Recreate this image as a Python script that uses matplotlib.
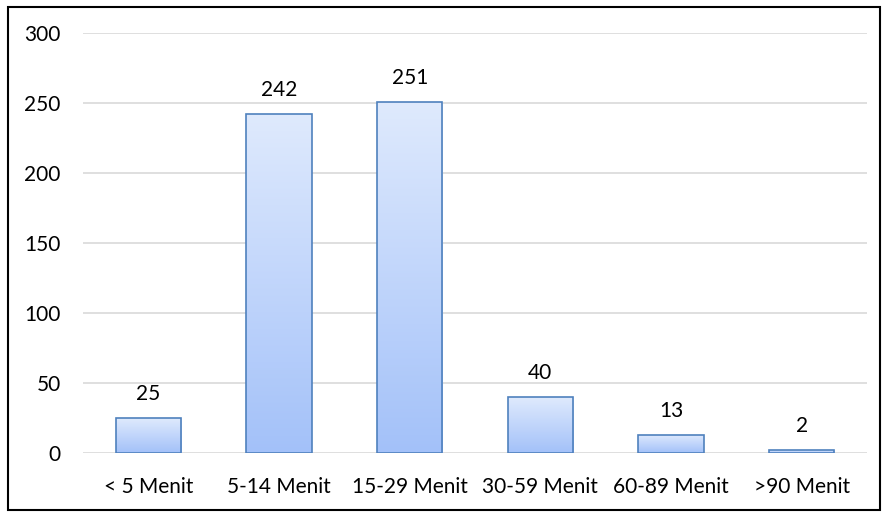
import numpy as np
import matplotlib.pyplot as plt
from matplotlib.patches import Rectangle
from matplotlib.colors import LinearSegmentedColormap

# data
categories = ['< 5 Menit', '5-14 Menit', '15-29 Menit', '30-59 Menit', '60-89 Menit', '>90 Menit']
counts = [25, 242, 251, 40, 13, 2]
y_ticks = [0, 50, 100, 150, 200, 250, 300]

plt.rcParams['font.family'] = ['Lato', 'DejaVu Sans']

fig = plt.figure(figsize=(8.84, 5.13), dpi=100)
ax = fig.add_axes([0.0939, 0.117, 0.887, 0.8187])

# outer frame of the chart
fig.patches.append(Rectangle((0.009, 0.006), 0.9864, 0.9805, transform=fig.transFigure,
                             fill=False, edgecolor='black', linewidth=1.5))

x = np.arange(len(categories))
bars = ax.bar(x, counts, width=0.5, color='none', edgecolor='#4f81bd', linewidth=1.2, zorder=3)

# vertical gradient inside each bar (light at top, darker at bottom)
cmap = LinearSegmentedColormap.from_list('bluegrad', ['#a3c1f9', '#dfeafd'])
grad = np.linspace(0, 1, 256).reshape(-1, 1)
for b in bars:
    x0, y0 = b.get_x(), b.get_y()
    w, h = b.get_width(), b.get_height()
    im = ax.imshow(grad, cmap=cmap, origin='lower', aspect='auto',
                   extent=(x0, x0 + w, y0, y0 + h), zorder=2)
    im.set_clip_path(b)

for b, v in zip(bars, counts):
    ax.annotate(str(v), (b.get_x() + b.get_width() / 2, b.get_height()),
                xytext=(0, 10), textcoords='offset points',
                ha='center', va='bottom', fontsize=15)

ax.set_xlim(-0.5, len(categories) - 0.5)
ax.set_ylim(0, 300)
ax.set_yticks(y_ticks)
ax.set_xticks(x)
ax.set_xticklabels(categories, fontsize=15)
ax.tick_params(axis='y', labelsize=15, length=0, pad=16)
ax.tick_params(axis='x', length=0, pad=17)
ax.grid(axis='y', color='#d9d9d9', linewidth=1.2, zorder=0)
ax.set_axisbelow(True)
for s in ax.spines.values():
    s.set_visible(False)

fig.savefig('out.png', dpi=100)
